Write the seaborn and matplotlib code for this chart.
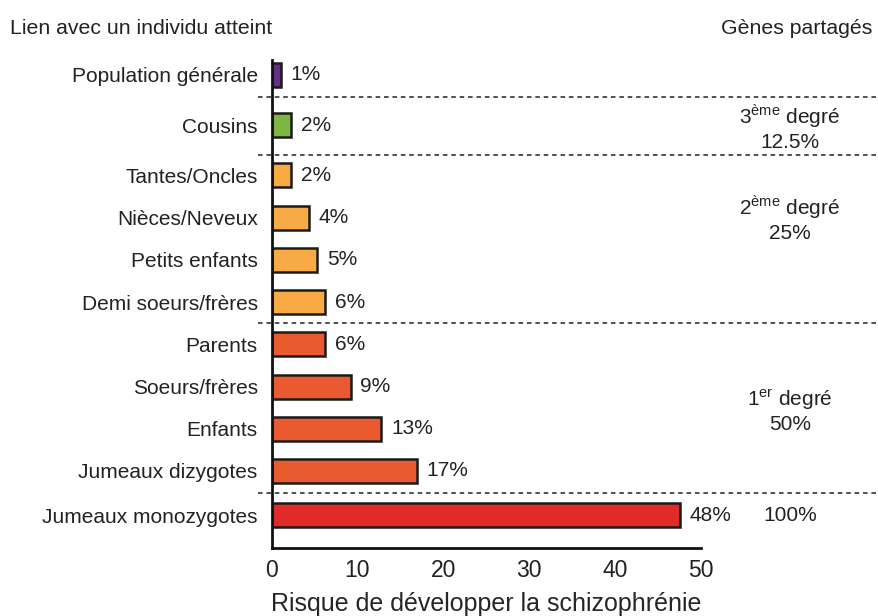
import matplotlib
matplotlib.use("Agg")
import matplotlib.pyplot as plt
import seaborn as sns
import pandas as pd

liens = ["Population générale", "Cousins", "Tantes/Oncles", "Nièces/Neveux",
         "Petits enfants", "Demi soeurs/frères", "Parents", "Soeurs/frères",
         "Enfants", "Jumeaux dizygotes", "Jumeaux monozygotes"]
risque = [1.1, 2.3, 2.3, 4.3, 5.3, 6.2, 6.2, 9.2, 12.8, 16.9, 47.6]
groupe = ["pop", "3e", "2e", "2e", "2e", "2e", "1er", "1er", "1er", "1er", "mz"]
couleurs = {"pop": "#6a2c8b", "3e": "#7cb743", "2e": "#f8ab45",
            "1er": "#e95b2f", "mz": "#e12b26"}
degres = ["3$^{\\mathrm{ème}}$ degré\n12.5%", "2$^{\\mathrm{ème}}$ degré\n25%",
          "1$^{\\mathrm{er}}$ degré\n50%", "100%"]

# extra space added at each change of group, and nudge of each dashed line (layout only)
ecarts = [0.19, 0.19, 0.0, 0.05]
nudges = [-0.07, 0.12, 0.0, 0.0]
pos = []
k = 0
decal = 0.0
for i in range(len(liens)):
    if i > 0 and groupe[i] != groupe[i - 1]:
        decal += ecarts[k]
        k += 1
    pos.append(i + decal)
separations = [(pos[j] + pos[j - 1]) / 2 for j in range(1, len(liens))
               if groupe[j] != groupe[j - 1]]
separations = [s + n for s, n in zip(separations, nudges)]
pos_degres = [1.23, 3.39, 7.94, pos[10]]

df = pd.DataFrame({"lien": liens, "risque": risque, "groupe": groupe, "pos": pos})

sns.set_style("white")
plt.rcParams["font.family"] = ["Liberation Sans", "DejaVu Sans"]
plt.rcParams["mathtext.fontset"] = "custom"
plt.rcParams["mathtext.rm"] = "Liberation Sans"
plt.rcParams["text.color"] = "#222222"

fig = plt.figure(figsize=(8.79, 6.16), dpi=100)
ax = fig.add_axes([0.309, 0.110, 0.488, 0.793])

sns.barplot(data=df, x="risque", y="pos", hue="groupe", palette=couleurs,
            orient="h", native_scale=True, dodge=False, legend=False,
            width=0.57, saturation=1, edgecolor="#1a1a1a", linewidth=1.8, ax=ax)

for c in ax.containers:
    ax.bar_label(c, labels=[f"{v:.0f}%" for v in c.datavalues], padding=7,
                 fontsize=15, color="#222222")

ax.set_xlim(0, 50)
ax.set_ylim(pos[-1] + 0.78, -0.36)
ax.set_yticks(pos)
ax.set_yticklabels(liens)
ax.set_xticks([0, 10, 20, 30, 40, 50])
ax.tick_params(axis="x", direction="in", length=8, width=2, labelsize=16.5,
               pad=8, colors="#111111", labelcolor="#222222")
ax.tick_params(axis="y", length=0, labelsize=15, pad=10, labelcolor="#222222")
ax.set_xlabel("Risque de développer la schizophrénie", fontsize=18, labelpad=7)
ax.set_ylabel("")
for s in ["top", "right"]:
    ax.spines[s].set_visible(False)
for s in ["left", "bottom"]:
    ax.spines[s].set_linewidth(2)
    ax.spines[s].set_color("#111111")

for y in separations:
    ax.plot([-1.6, 70.5], [y, y], ls=(0, (3, 2.5)), lw=1.1, color="#222222",
            clip_on=False)

for txt, y in zip(degres, pos_degres):
    ax.text(60.4, y, txt, ha="center", va="center", fontsize=15,
            linespacing=1.2)

fig.text(0.011, 0.953, "Lien avec un individu atteint", fontsize=15.3, va="center")
fig.text(0.993, 0.953, "Gènes partagés", fontsize=15.3, va="center", ha="right")

fig.savefig("out.png", dpi=100)
